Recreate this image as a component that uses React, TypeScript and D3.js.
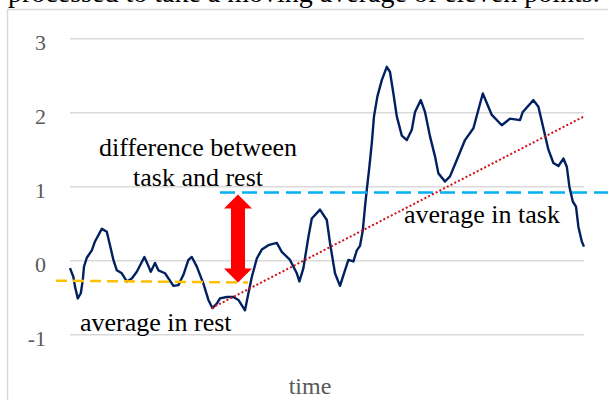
import React from 'react';
import * as d3 from 'd3';

// moving-averaged signal (time in samples, value)
const timePoints = [
	0, 1.7, 2.5, 3.9, 5.4, 6.4, 7, 8.4, 10.9, 12.5, 15.9, 18.4, 20, 21.7, 23.4,
	25.9, 28.4, 30.9, 33.4, 37.2, 38.7, 40.4, 42.5, 44.2, 47.5, 51.7, 54.2, 56.7,
	59.2, 60.9, 63.4, 66.7, 69.2, 71.2, 73.4, 75, 78.4, 81.7, 84.2, 87.5, 89.2,
	90.9, 93.4, 95.9, 99.2, 103.4, 105.9, 110, 113.4, 114.7, 116.7, 119.2, 120.9,
	125, 128.4, 130, 132.5, 135, 137, 139.2, 141.7, 143.4, 145, 146.4, 147.5,
	148.4, 149.7, 150.9, 152, 153.7, 155.9, 158.4, 160, 161.7, 163.4, 165.9,
	168.4, 170.9, 172.5, 175.4, 177.5, 180, 182.5, 184.2, 187.5, 190, 193.4,
	197.5, 201.7, 204.2, 206.4, 210.9, 215.9, 220, 225, 226.4, 231.7, 234.2,
	236.7, 239.2, 241.7, 244.2, 246.7, 248.4, 249.7, 251.4, 253, 254.2, 255.9,
	257,
];
const signal = [
	-0.1, -0.22, -0.35, -0.51, -0.44, -0.26, -0.08, 0.04, 0.14, 0.26, 0.43, 0.39,
	0.21, 0.01, -0.13, -0.17, -0.28, -0.24, -0.15, 0.05, -0.04, -0.15, -0.03,
	-0.13, -0.17, -0.34, -0.33, -0.19, 0.01, 0.05, -0.08, -0.31, -0.53, -0.64,
	-0.58, -0.51, -0.49, -0.49, -0.53, -0.67, -0.44, -0.22, 0.03, 0.15, 0.21,
	0.24, 0.12, 0.01, -0.17, -0.28, -0.1, 0.32, 0.57, 0.69, 0.55, 0.24, -0.17,
	-0.34, -0.17, 0.01, -0.01, 0.14, 0.2, 0.41, 0.73, 0.96, 1.27, 1.59, 1.95,
	2.22, 2.44, 2.62, 2.55, 2.26, 1.95, 1.69, 1.63, 1.77, 2.01, 2.17, 2.01, 1.68,
	1.41, 1.18, 1.07, 1.14, 1.36, 1.63, 1.79, 2.04, 2.26, 1.97, 1.83, 1.92, 1.9,
	2.01, 2.17, 2.08, 1.79, 1.5, 1.32, 1.28, 1.38, 1.27, 1.0, 0.8, 0.73, 0.46,
	0.26, 0.19,
];

const yTicks = [3, 2, 1, 0, -1];

// annotation lines: [time, value]
const restAverage: [number, number][] = [
	[-7, -0.27],
	[89, -0.295],
];
const taskAverage: [number, number][] = [
	[75, 0.92],
	[269, 0.92],
];
const trendLine: [number, number][] = [
	[70.8, -0.64],
	[257, 1.95],
];
const arrowTime = 84;

const W = 608;
const H = 400;

const App: React.FC = () => {
	const x = d3.scaleLinear().domain([0, 257]).range([70, 584]);
	const y = d3.scaleLinear().domain([-1, 3]).range([334.7, 38.7]);

	const line = d3
		.line<[number, number]>()
		.x((d) => x(d[0]))
		.y((d) => y(d[1]));

	const series: [number, number][] = timePoints.map((t, i) => [t, signal[i]]);

	// double arrow between the two averages
	const ax = x(arrowTime);
	const top = y(taskAverage[0][1]) + 2;
	const bot = y(restAverage[1][1]);
	const hw = 14;
	const sw = 7;
	const hh = 14;
	const arrow = [
		[ax, top],
		[ax + hw, top + hh],
		[ax + sw, top + hh],
		[ax + sw, bot - hh],
		[ax + hw, bot - hh],
		[ax, bot],
		[ax - hw, bot - hh],
		[ax - sw, bot - hh],
		[ax - sw, top + hh],
		[ax - hw, top + hh],
	]
		.map((p) => p.join(','))
		.join(' ');

	const serif = "'Liberation Serif', 'Times New Roman', serif";

	return (
		<div style={{ position: 'fixed', left: 0, top: 0 }}>
			<svg width={W} height={H} style={{ display: 'block', background: '#fff' }}>
				<text x={8} y={2} fontFamily={serif} fontSize={28} fill="#000">
					processed to take a moving average of eleven points.
				</text>
				<rect
					x={7.5}
					y={9.5}
					width={640}
					height={440}
					fill="#fff"
					stroke="#d9d9d9"
					strokeWidth={1.5}
				/>

				{yTicks.map((t) => (
					<g key={t}>
						<line
							x1={70}
							x2={584}
							y1={y(t)}
							y2={y(t)}
							stroke="#d9d9d9"
							strokeWidth={1.5}
						/>
						<text
							x={46}
							y={y(t) + 11}
							textAnchor="end"
							fontFamily={serif}
							fontSize={22}
							fill="#595959">
							{t}
						</text>
					</g>
				))}

				<path
					d={line(series) ?? ''}
					fill="none"
					stroke="#002060"
					strokeWidth={2.4}
					strokeLinejoin="round"
				/>

				<path
					d={line(restAverage) ?? ''}
					fill="none"
					stroke="#ffc000"
					strokeWidth={2.5}
					strokeDasharray="11,6"
				/>
				<path
					d={line(taskAverage) ?? ''}
					fill="none"
					stroke="#00b0f0"
					strokeWidth={2.5}
					strokeDasharray="15,7"
				/>
				<path
					d={line(trendLine) ?? ''}
					fill="none"
					stroke="#d0101a"
					strokeWidth={2}
					strokeDasharray="2,2.2"
				/>

				<polygon points={arrow} fill="#ff0000" />

				<g fontFamily={serif} fontSize={26} fill="#000">
					<text x={198} y={155.7} textAnchor="middle">
						difference between
					</text>
					<text x={198} y={186} textAnchor="middle">
						task and rest
					</text>
					<text x={80} y={331}>
						average in rest
					</text>
					<text x={404} y={223}>
						average in task
					</text>
				</g>

				<text
					x={310}
					y={394}
					textAnchor="middle"
					fontFamily={serif}
					fontSize={24}
					fill="#595959">
					time
				</text>
			</svg>
		</div>
	);
};

export default App;
